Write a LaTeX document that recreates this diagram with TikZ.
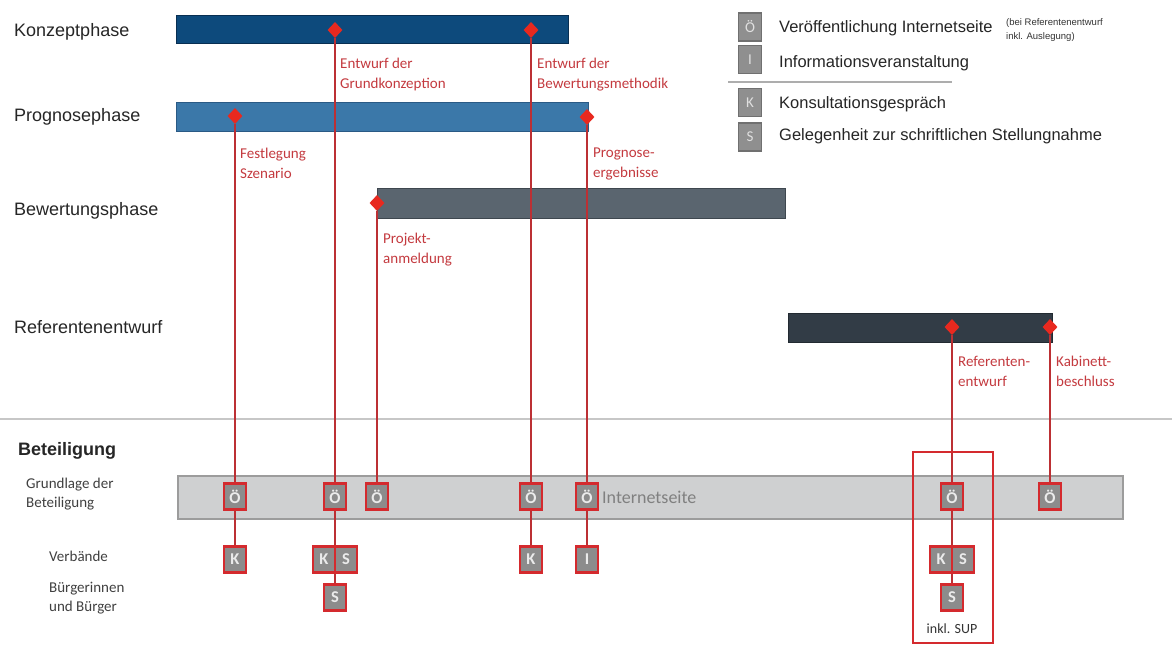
\documentclass[tikz,border=0pt]{standalone}
\usepackage{fontspec}
\setmainfont{Liberation Sans}
\newfontfamily\carl{Carlito}
\usetikzlibrary{shapes.geometric}
\definecolor{konz}{HTML}{0D4A7C}
\definecolor{konzb}{HTML}{082F52}
\definecolor{prog}{HTML}{3B78A9}
\definecolor{progb}{HTML}{2A5A85}
\definecolor{bew}{HTML}{5A656F}
\definecolor{bewb}{HTML}{3E474F}
\definecolor{ref}{HTML}{323C46}
\definecolor{refb}{HTML}{222A31}
\definecolor{grund}{HTML}{CFD0D1}
\definecolor{grundb}{HTML}{9C9C9C}
\definecolor{lred}{HTML}{BC3034}
\definecolor{dred}{HTML}{E8291F}
\definecolor{tred}{HTML}{C43A3F}
\definecolor{bred}{HTML}{D42A2E}
\definecolor{bgray}{HTML}{8C8C8C}
\definecolor{lgray}{HTML}{8F8F8F}
\definecolor{lgrayb}{HTML}{707070}
\pgfdeclarelayer{bg}
\pgfdeclarelayer{lines}
\pgfsetlayers{bg,lines,main}
\tikzset{
  phase/.style={font=\fontsize{18}{20}\selectfont, text=black!85, anchor=base west, inner sep=0},
  bar/.style={draw, line width=1pt, inner sep=0},
  mile/.style={diamond, fill=dred, minimum width=15pt, minimum height=16pt, inner sep=0},
  mlabel/.style={font=\carl\fontsize{15}{20}\selectfont, text=tred, align=left, anchor=north west, inner sep=0},
  rline/.style={draw=lred, line width=1.3pt},
  obox/.style={draw=bred, line width=2.5pt, fill=bgray, text=white!92!black, font=\carl\bfseries\fontsize{16.5}{17}\selectfont, minimum width=22pt, minimum height=26pt, inner sep=0},
  lbox/.style={draw=lgrayb, line width=1.5pt, fill=lgray, text=white!88!black, font=\carl\fontsize{15}{16}\selectfont, minimum width=23pt, minimum height=28pt, inner sep=0},
  legtext/.style={font=\fontsize{16.5}{18}\selectfont, text=black!85, anchor=base west, inner sep=0},
  blabel/.style={font=\carl\fontsize{15}{19}\selectfont, text=black!75, align=left, anchor=north west, inner sep=0},
}
\begin{document}
\begin{tikzpicture}[x=1pt,y=-1pt]
\useasboundingbox (0,0) rectangle (1172,646);
\begin{pgfonlayer}{bg}
\fill[white] (0,0) rectangle (1172,646);
% phase bars
\node[bar, fill=konz, draw=konzb, minimum width=392pt, minimum height=28pt] (bk) at (372,29) {};
\node[bar, fill=prog, draw=progb, minimum width=412pt, minimum height=29pt] (bp) at (382,116.5) {};
\node[bar, fill=bew, draw=bewb, minimum width=408pt, minimum height=30pt] (bb) at (581,203) {};
\node[bar, fill=ref, draw=refb, minimum width=264pt, minimum height=29pt] (br) at (920,327.5) {};
% Grundlage bar
\node[draw=grundb, line width=1.5pt, fill=grund, minimum width=945pt, minimum height=43pt, inner sep=0] (bg1) at (650.5,497.5) {};
% separators
\coordinate (sepL) at (0,419);
\coordinate (sepR) at (1172,419);
\draw[black!22, line width=2pt] (sepL) -- (sepR);
\coordinate (lsepL) at (728,82);
\coordinate (lsepR) at (952,82);
\draw[black!32, line width=1.5pt] (lsepL) -- (lsepR);
\end{pgfonlayer}

% phase labels
\node[phase] (lk) at (14,36.5) {Konzeptphase};
\node[phase] (lp) at (14,121) {Prognosephase};
\node[phase] (lb) at (14,215) {Bewertungsphase};
\node[phase] (lr) at (14,333) {Referentenentwurf};

% milestones
\node[mile] (m1) at (335,30) {};
\node[mile] (m2) at (531,30) {};
\node[mile] (m3) at (235,116) {};
\node[mile] (m4) at (587,117) {};
\node[mile] (m5) at (377,203) {};
\node[mile] (m6) at (952,327) {};
\node[mile] (m7) at (1050,327) {};

% milestone labels
\node[mlabel] (t1) at (340,58) {Entwurf der\\Grundkonzeption};
\node[mlabel] (t2) at (537,58) {Entwurf der\\Bewertungsmethodik};
\node[mlabel] (t3) at (240,148) {Festlegung\\Szenario};
\node[mlabel] (t4) at (593,148) {Prognose-\\ergebnisse};
\node[mlabel] (t5) at (383,233) {Projekt-\\anmeldung};
\node[mlabel] (t6) at (958,356) {Referenten-\\entwurf};
\node[mlabel] (t7) at (1056,356) {Kabinett-\\beschluss};

% Beteiligung
\node[font=\bfseries\fontsize{18}{20}\selectfont, text=black!85, anchor=base west, inner sep=0] (bet) at (18,455) {Beteiligung};
\node[blabel] (gl) at (26,478) {Grundlage der\\Beteiligung};
\node[blabel] (vb) at (49,551) {Verbände};
\node[blabel] (bu) at (49,582) {Bürgerinnen\\und Bürger};
\node[font=\carl\fontsize{18}{20}\selectfont, text=black!50, anchor=west, inner sep=0] (inet) at (602,497.5) {Internetseite};

% SUP frame
\node[draw=bred, line width=2pt, minimum width=80pt, minimum height=191pt, inner sep=0] (sup) at (953,547.5) {};
\node[font=\carl\fontsize{14}{16}\selectfont, text=black!80, inner sep=0] (suptxt) at (952,629) {inkl. SUP};

% Ö boxes
\node[obox] (o1) at (235,496.5) {Ö};
\node[obox] (o2) at (335,496.5) {Ö};
\node[obox] (o3) at (377,496.5) {Ö};
\node[obox] (o4) at (531,496.5) {Ö};
\node[obox] (o5) at (587,496.5) {Ö};
\node[obox] (o6) at (952,496.5) {Ö};
\node[obox] (o7) at (1050,496.5) {Ö};

% Verbände row
\node[obox] (k1) at (235,559.5) {K};
\node[obox] (k2) at (324,559.5) {K};
\node[obox] (s0) at (346,559.5) {S};
\node[obox] (k3) at (531,559.5) {K};
\node[obox] (i1) at (587,559.5) {I};
\node[obox] (k4) at (941,559.5) {K};
\node[obox] (s3) at (963,559.5) {S};

% Bürger row
\node[obox] (s1) at (335,597.5) {S};
\node[obox] (s2) at (952,597.5) {S};

% connectors
\begin{pgfonlayer}{lines}
\draw[rline] (m3) -- (o1);
\draw[rline] (m1) -- (o2);
\draw[rline] (m5) -- (o3);
\draw[rline] (m2) -- (o4);
\draw[rline] (m4) -- (o5);
\draw[rline] (m6) -- (o6);
\draw[rline] (m7) -- (o7);
\draw[rline] (o1) -- (k1);
\draw[rline] (o2) -- (s1);
\draw[rline] (o4) -- (k3);
\draw[rline] (o5) -- (i1);
\draw[rline] (o6) -- (s2);
\end{pgfonlayer}

% legend
\node[lbox] (lo) at (750,27) {Ö};
\node[lbox] (li) at (750,59.5) {I};
\node[lbox] (lkk) at (750,102.5) {K};
\node[lbox] (ls) at (750,137) {S};
\node[legtext] (lto) at (779,32) {Veröffentlichung Internetseite};
\node[font=\fontsize{9.5}{14}\selectfont, text=black!80, align=left, anchor=north west, inner sep=0] (lnote) at (1006,18) {(bei Referentenentwurf\\inkl. Auslegung)};
\node[legtext] (lti) at (779,67) {Informationsveranstaltung};
\node[legtext] (ltk) at (779,108) {Konsultationsgespräch};
\node[legtext] (lts) at (779,140) {Gelegenheit zur schriftlichen Stellungnahme};
\end{tikzpicture}
\end{document}
